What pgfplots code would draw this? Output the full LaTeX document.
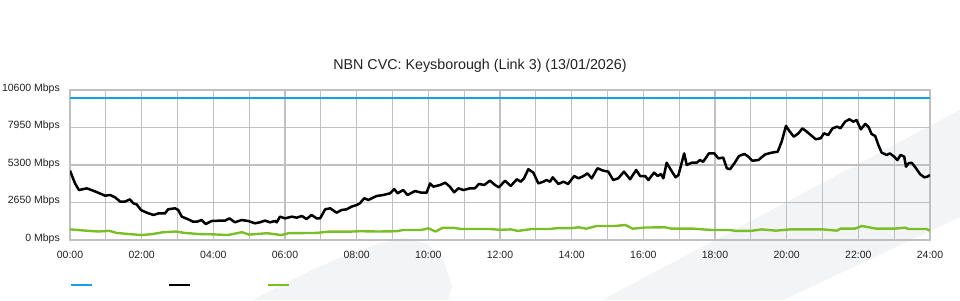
\documentclass[border=0pt]{standalone}
\usepackage{pgfplots}
\pgfplotsset{compat=1.18}
\usepackage{pgfplotstable}
\usepackage{fontspec}
\setmainfont{Liberation Sans}
\definecolor{cvcblue}{RGB}{24,160,224}
\definecolor{cvcgreen}{RGB}{124,190,40}
\definecolor{gridc}{RGB}{192,192,192}
\definecolor{wm}{RGB}{243,244,246}
\definecolor{txt}{RGB}{34,34,34}

\pgfplotstableread{
h v
0 10000
24 10000
}\capdata

\pgfplotstableread{
h v
0.00 4900
0.14 4000
0.25 3530
0.47 3650
0.60 3530
0.79 3340
0.98 3130
1.12 3180
1.26 3010
1.40 2710
1.53 2710
1.67 2870
1.77 2590
1.86 2520
1.98 2120
2.14 1930
2.33 1770
2.47 1880
2.65 1880
2.74 2170
2.93 2240
3.02 2120
3.12 1650
3.30 1460
3.44 1290
3.54 1290
3.67 1410
3.79 1130
3.95 1340
4.19 1370
4.33 1370
4.45 1530
4.60 1250
4.79 1410
4.98 1340
5.16 1180
5.30 1250
5.44 1370
5.58 1250
5.72 1340
5.77 1250
5.86 1650
6.00 1530
6.19 1650
6.33 1580
6.47 1700
6.60 1480
6.74 1770
6.88 1530
6.98 1530
7.12 2170
7.26 2240
7.44 1930
7.58 2120
7.72 2170
7.86 2360
8.00 2470
8.09 2590
8.21 2950
8.33 2830
8.42 2950
8.56 3110
8.74 3180
8.93 3300
9.05 3600
9.14 3300
9.30 3530
9.42 3180
9.63 3460
9.81 3340
9.95 3340
10.05 4000
10.14 3770
10.33 3890
10.47 4050
10.60 3770
10.72 3370
10.84 3650
10.98 3530
11.16 3650
11.30 3650
11.41 3960
11.56 3890
11.72 4190
11.86 3890
11.97 3720
12.14 4190
12.30 3820
12.47 4290
12.58 4120
12.67 4360
12.79 5000
12.93 4760
13.07 4000
13.21 4120
13.30 4240
13.40 4120
13.47 4430
13.63 3960
13.77 4120
13.90 3960
14.07 4520
14.19 4360
14.33 4520
14.44 4710
14.56 4360
14.72 5070
14.88 4900
15.02 4830
15.16 4240
15.30 4360
15.46 4830
15.63 4290
15.80 4950
15.91 4520
16.05 4520
16.14 4240
16.30 4760
16.40 4520
16.49 4660
16.56 4360
16.65 5460
16.77 4950
16.90 4430
16.98 4590
17.14 6120
17.21 5300
17.35 5460
17.49 5460
17.58 5650
17.67 5530
17.83 6120
17.98 6120
18.09 5770
18.23 5820
18.33 5070
18.42 5000
18.54 5420
18.67 5940
18.82 6080
18.93 5890
19.04 5600
19.21 5650
19.40 6050
19.58 6170
19.75 6240
19.86 6950
19.98 8060
20.09 7650
20.20 7300
20.33 7540
20.44 7890
20.53 7720
20.67 7420
20.81 7120
20.95 7190
21.04 7540
21.16 7420
21.28 7890
21.41 8010
21.50 7890
21.63 8360
21.75 8530
21.86 8360
21.95 8480
22.07 7820
22.19 8200
22.28 8010
22.37 7490
22.47 7350
22.56 6710
22.65 6170
22.79 6010
22.88 6120
23.00 5890
23.09 5650
23.18 6010
23.28 5890
23.33 5180
23.40 5420
23.49 5460
23.61 5070
23.72 4660
23.84 4430
23.93 4480
24.00 4590
}\downdata

\pgfplotstableread{
h v
0.00 750
0.25 700
0.50 650
0.80 600
1.10 650
1.30 500
1.60 430
2.00 350
2.30 420
2.60 550
2.95 600
3.20 500
3.60 420
4.00 400
4.40 350
4.80 550
5.00 380
5.50 480
5.90 350
6.10 480
6.50 490
6.90 500
7.20 590
7.80 590
8.10 620
8.60 600
9.10 620
9.30 707
9.80 707
10.00 825
10.20 600
10.40 860
10.70 860
10.90 780
11.70 780
12.00 720
12.30 750
12.50 640
12.90 780
13.40 780
13.60 840
14.00 840
14.20 900
14.40 800
14.70 990
15.20 990
15.50 1060
15.70 800
16.05 880
16.60 900
16.80 800
17.40 800
17.90 707
18.40 707
18.60 640
19.00 640
19.30 750
19.70 660
20.10 750
21.00 750
21.40 660
21.50 800
21.90 800
22.10 990
22.50 800
23.00 800
23.30 870
23.40 780
23.90 780
24.00 660
}\updata

\begin{document}
\begin{tikzpicture}[x=1pt,y=1pt]
\path[use as bounding box, fill=white] (0,0) rectangle (960,300);
% watermark
\fill[wm] (253,0) .. controls (300,25) and (360,55) .. (404,62) -- (428,56) -- (444,38) -- (452,14) -- (448,0) -- cycle;
\fill[wm] (602,0) -- (960,190) -- (960,83) -- (783,0) -- cycle;
\begin{axis}[
  at={(70pt,60pt)}, anchor=south west,
  scale only axis, width=860pt, height=150pt,
  xmin=0, xmax=24, ymin=0, ymax=10600,
  scaled y ticks=false, scaled x ticks=false,
  xtick={0,2,...,24},
  xticklabels={00:00,02:00,04:00,06:00,08:00,10:00,12:00,14:00,16:00,18:00,20:00,22:00,24:00},
  minor xtick={1,3,...,23},
  ytick={0,2650,5300,7950,10600},
  yticklabels={0 Mbps,2650 Mbps,5300 Mbps,7950 Mbps,10600 Mbps},
  grid=both,
  major grid style={gridc, line width=1.1pt},
  minor grid style={gridc, line width=1.1pt},
  axis line style={gridc, line width=1.1pt},
  major tick length=0pt, minor tick length=0pt,
  tick style={draw=none},
  ticklabel style={font=\fontsize{10.5}{12}\selectfont, text=txt},
  xticklabel style={anchor=base, yshift=-18.8pt, inner sep=0pt},
  yticklabel style={anchor=east, xshift=-10pt, yshift=1.5pt, inner sep=0pt},
  title={NBN CVC: Keysborough (Link 3) (13/01/2026)},
  title style={at={(0.4767,1)}, anchor=base, yshift=14.3pt, inner sep=0pt,
    font=\fontsize{14.3}{16}\selectfont, text=txt},
  legend columns=3,
  legend entries={\mbox{},\mbox{},\mbox{}},
  legend image code/.code={\draw[#1, mark=none] (0pt,0pt) -- (21pt,0pt);},
  legend style={at={(0,0)}, anchor=west, yshift=-45pt, draw=none, fill=none,
    inner sep=0pt, nodes={inner sep=0pt},
    /tikz/every even column/.append style={column sep=74pt}},
]
\addplot[cvcblue, line width=2pt] table[x=h,y=v] {\capdata};
\addplot[black, line width=2.5pt, line join=round] table[x=h,y=v] {\downdata};
\addplot[cvcgreen, line width=2.4pt, line join=round] table[x=h,y=v] {\updata};
\end{axis}
\end{tikzpicture}
\end{document}
